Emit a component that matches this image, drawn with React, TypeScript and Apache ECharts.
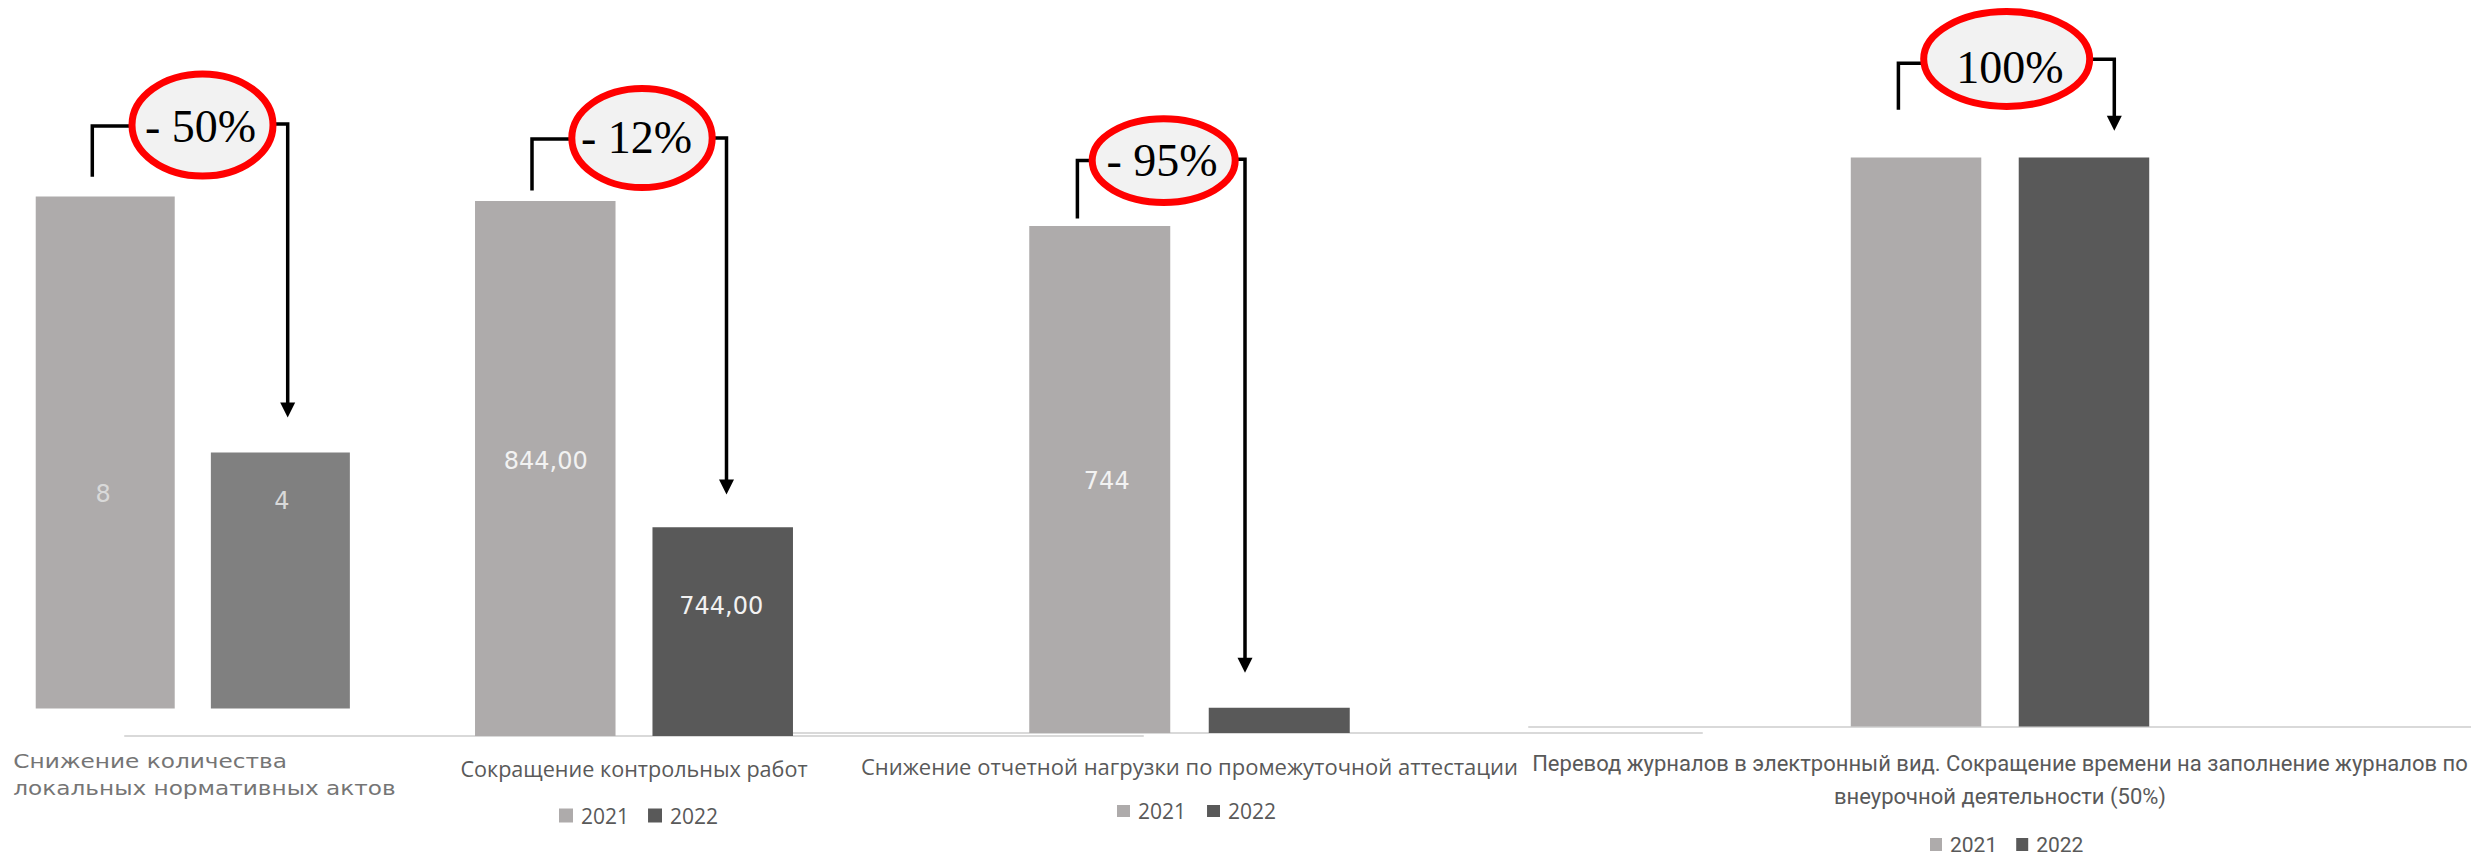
import React, { useEffect, useRef } from "react";
import * as echarts from "echarts";

// ---------- data ----------
const CATEGORIES = [
  "Снижение количества\nлокальных нормативных актов",
  "Сокращение контрольных работ",
  "Снижение отчетной нагрузки по промежуточной аттестации",
  "Перевод журналов в электронный вид. Сокращение времени на заполнение журналов по\nвнеурочной деятельности (50%)",
];
const SERIES_NAMES = ["2021", "2022"];
const VALUES_2021 = [8, 844, 744, 100];
const VALUES_2022 = [4, 744, 37, 100];
const AXIS_MIN = [0, 680, 0, 0];
const AXIS_MAX = [8, 844, 744, 100];
const CHANGE_LABELS = ["- 50%", "- 12%", "- 95%", "100%"];
const LABEL_DECIMALS = [0, 2, 0, 0];
const SHOW_LABEL_2021 = [true, true, true, false];
const SHOW_LABEL_2022 = [true, true, false, false];

// ---------- layout / style ----------
const GRIDS = [
  { left: 35.6, width: 314.4, top: 196.6, height: 511.8 },
  { left: 125, width: 1018, top: 201, height: 535 },
  { left: 677, width: 1025, top: 226, height: 507 },
  { left: 1529, right: 0, top: 157.6, height: 569 },
];
const BAR_WIDTH = [139, 140.5, 141, 130.5];
const BAR_GAP = ["26%", "26.3%", "27.3%", "28.7%"];
const COLOR_2021 = "#aeabab";
const COLOR_2022 = ["#808080", "#595959", "#595959", "#595959"];
const VALUE_LABEL_COLOR = ["#d9d9d9", "#f2f2f2", "#f2f2f2", "#f2f2f2"];
const LABEL_OFFSET_2021 = [[-2, 41.5], [0.5, -7.5], [7, 1], [0, 0]];
const LABEL_OFFSET_2022 = [[1.5, -79], [-1.5, -25.5], [0, 0], [0, 0]];
const AXIS_LABEL_FONT = [
  null,
  { fontFamily: "Open Sans", fontSize: 21.6, lineHeight: 30, margin: 17 },
  { fontFamily: "Open Sans", fontSize: 22, lineHeight: 30, margin: 18 },
  { fontFamily: "Roboto", fontSize: 22, lineHeight: 33, margin: 20 },
];

const CALLOUTS = [
  { cx: 202.5, cy: 125, rx: 70.5, ry: 51, tx: 200.5, ty: 126, leftX: 92.3, leftBottom: 176.7, leftY: 126, rightX: 287.7, rightY: 124, tipY: 417.4 },
  { cx: 642, cy: 138, rx: 70.2, ry: 49.5, tx: 636.5, ty: 137.5, leftX: 532, leftBottom: 190.6, leftY: 139, rightX: 726.5, rightY: 138, tipY: 494.5 },
  { cx: 1163.7, cy: 160.6, rx: 71.5, ry: 41.8, tx: 1162, ty: 160.5, leftX: 1077.4, leftBottom: 218.6, leftY: 160.4, rightX: 1245, rightY: 159.3, tipY: 672.7 },
  { cx: 2006.7, cy: 59, rx: 83, ry: 47.4, tx: 2010, ty: 67, leftX: 1898.4, leftBottom: 109.8, leftY: 63.2, rightX: 2114.3, rightY: 59.3, tipY: 130.7 },
];

const fmt = (v: number, d: number) => v.toFixed(d).replace(".", ",");

function buildOption(): any {
  const grid = GRIDS.map((g) => ({ ...g }));
  const xAxis = CATEGORIES.map((c, i) => ({
    type: "category",
    gridIndex: i,
    data: [c],
    axisTick: { show: false },
    axisLine: { show: i > 0, lineStyle: { color: "#d9d9d9", width: 2 } },
    axisLabel: AXIS_LABEL_FONT[i]
      ? { show: true, interval: 0, color: "#595959", ...AXIS_LABEL_FONT[i] }
      : { show: false },
  }));
  const yAxis = CATEGORIES.map((_, i) => ({
    type: "value",
    gridIndex: i,
    min: AXIS_MIN[i],
    max: AXIS_MAX[i],
    show: false,
    splitLine: { show: false },
  }));
  const series: any[] = [];
  for (let i = 0; i < CATEGORIES.length; i++) {
    series.push({
      type: "bar",
      name: SERIES_NAMES[0],
      xAxisIndex: i,
      yAxisIndex: i,
      data: [VALUES_2021[i]],
      barWidth: BAR_WIDTH[i],
      barGap: BAR_GAP[i],
      itemStyle: { color: COLOR_2021 },
      label: {
        show: SHOW_LABEL_2021[i],
        position: "inside",
        offset: LABEL_OFFSET_2021[i],
        formatter: (p: any) => fmt(p.value, LABEL_DECIMALS[i]),
        color: VALUE_LABEL_COLOR[i],
        fontFamily: "DejaVu Sans",
        fontSize: 24,
      },
    });
    series.push({
      type: "bar",
      name: SERIES_NAMES[1],
      xAxisIndex: i,
      yAxisIndex: i,
      data: [VALUES_2022[i]],
      barWidth: BAR_WIDTH[i],
      barGap: BAR_GAP[i],
      itemStyle: { color: COLOR_2022[i] },
      label: {
        show: SHOW_LABEL_2022[i],
        position: "inside",
        offset: LABEL_OFFSET_2022[i],
        formatter: (p: any) => fmt(p.value, LABEL_DECIMALS[i]),
        color: VALUE_LABEL_COLOR[i],
        fontFamily: "DejaVu Sans",
        fontSize: 24,
      },
    });
  }

  const legendData = [
    { name: SERIES_NAMES[0], itemStyle: { color: COLOR_2021 } },
    { name: SERIES_NAMES[1], itemStyle: { color: "#595959" } },
  ];
  const legend = [
    { left: 559, top: 805, padding: 0, itemWidth: 14, itemHeight: 14, itemGap: 19, icon: "rect", selectedMode: false, data: legendData,
      textStyle: { fontFamily: "Open Sans", fontSize: 21, color: "#595959", padding: [0, 0, 0, 3] } },
    { left: 1117, top: 800.5, padding: 0, itemWidth: 13, itemHeight: 12, itemGap: 21, icon: "rect", selectedMode: false, data: legendData,
      textStyle: { fontFamily: "Open Sans", fontSize: 21, color: "#595959", padding: [0, 0, 0, 3] } },
    { left: 1930, top: 834, padding: 0, itemWidth: 12, itemHeight: 13, itemGap: 19, icon: "rect", selectedMode: false, data: legendData,
      textStyle: { fontFamily: "Roboto", fontSize: 21, lineHeight: 21, color: "#595959", padding: [0, 0, 0, 3] } },
  ];

  const graphic: any[] = [
    {
      type: "text",
      x: 13.3,
      y: 747,
      scaleX: 1.16,
      style: {
        text: CATEGORIES[0],
        fontFamily: "DejaVu Sans",
        fontSize: 20,
        lineHeight: 27.5,
        fill: "#757575",
        align: "left",
        verticalAlign: "top",
      },
    },
  ];
  CALLOUTS.forEach((c, i) => {
    graphic.push(
      {
        type: "polyline",
        z: 10,
        shape: { points: [[c.leftX, c.leftBottom], [c.leftX, c.leftY], [c.cx, c.leftY]] },
        style: { stroke: "#000", lineWidth: 3.5, fill: null },
      },
      {
        type: "polyline",
        z: 10,
        shape: { points: [[c.cx, c.rightY], [c.rightX, c.rightY], [c.rightX, c.tipY - 14]] },
        style: { stroke: "#000", lineWidth: 3.5, fill: null },
      },
      {
        type: "polygon",
        z: 10,
        shape: { points: [[c.rightX - 7.5, c.tipY - 15], [c.rightX + 7.5, c.tipY - 15], [c.rightX, c.tipY]] },
        style: { fill: "#000" },
      },
      {
        type: "ellipse",
        z: 11,
        shape: { cx: c.cx, cy: c.cy, rx: c.rx, ry: c.ry },
        style: { fill: "#f2f2f2", stroke: "#ff0000", lineWidth: 7 },
      },
      {
        type: "text",
        z: 12,
        x: c.tx,
        y: c.ty,
        style: {
          text: CHANGE_LABELS[i],
          fontFamily: "Liberation Serif",
          fontSize: 46,
          fill: "#000",
          align: "center",
          verticalAlign: "middle",
        },
      }
    );
  });

  return {
    animation: false,
    backgroundColor: "#ffffff",
    grid,
    xAxis,
    yAxis,
    legend,
    series,
    graphic,
  };
}

export default function App() {
  const ref = useRef<HTMLDivElement>(null);
  useEffect(() => {
    if (!ref.current) return;
    const chart = echarts.init(ref.current, null, { renderer: "svg" });
    chart.setOption(buildOption());
    return () => chart.dispose();
  }, []);
  return (
    <div
      ref={ref}
      style={{ position: "fixed", left: 0, top: 0, width: 2471, height: 861, background: "#fff" }}
    />
  );
}
